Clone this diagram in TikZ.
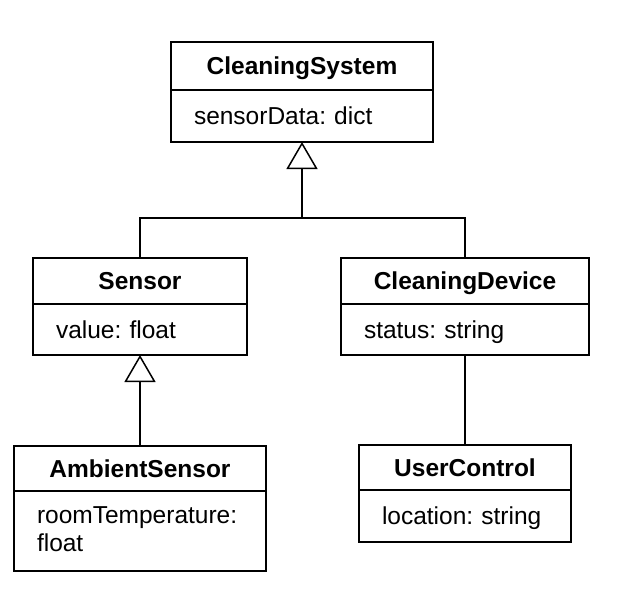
\documentclass[tikz,border=0pt]{standalone}
\usepackage{fontspec}
\setmainfont{Liberation Sans}
\usetikzlibrary{arrows.meta}
\frenchspacing
\tikzset{
	classhead/.style={draw, line width=1.5pt, outer sep=0pt, inner sep=0pt, anchor=north west,
		font=\bfseries\fontsize{24.5}{28}\selectfont, text height=17.5pt, text depth=0pt},
	classattr/.style={draw, line width=1.5pt, outer sep=0pt, inner xsep=23pt, inner ysep=0pt, anchor=north west,
		align=left, font=\fontsize{24.5}{28}\selectfont, text height=17.5pt, text depth=0pt},
	inherit/.style={line width=1.5pt, -{Triangle[open, length=27pt, width=31pt]}},
	assoc/.style={line width=1.5pt}
}

\begin{document}
\begin{tikzpicture}[x=1pt, y=-1pt]
			%%%%% START %%%%%
			\useasboundingbox (0, 0) rectangle (624, 602);
			
			\node[classhead, minimum width=262pt, minimum height=48pt] (system) at (171, 42) {CleaningSystem};
			\node[classattr, text width=216pt, minimum height=52pt] (systemattr) at (system.south west) {sensorData: dict};
			
			\node[classhead, minimum width=214pt, minimum height=46pt] (sensor) at (33, 258) {Sensor};
			\node[classattr, text width=168pt, minimum height=51pt] (sensorattr) at (sensor.south west) {value: float};
			
			\node[classhead, minimum width=248pt, minimum height=46pt] (device) at (341, 258) {CleaningDevice};
			\node[classattr, text width=202pt, minimum height=51pt] (deviceattr) at (device.south west) {status: string};
			
			\node[classhead, minimum width=252pt, minimum height=45pt] (ambient) at (14, 446) {AmbientSensor};
			\node[classattr, text width=206pt, minimum height=80pt, text depth=33.5pt] (ambientattr) at (ambient.south west) {roomTemperature:\\float};
			
			\node[classhead, minimum width=212pt, minimum height=45pt] (user) at (359, 445) {UserControl};
			\node[classattr, text width=166pt, minimum height=52pt] (userattr) at (user.south west) {location: string};
			
			\coordinate (fork) at (302, 218);
			\draw[inherit] (sensor.north) |- (fork) -- (systemattr.south);
			\draw[assoc] (device.north) |- (fork);
			
			\draw[inherit] (ambient.north) -- (sensorattr.south);
			\draw[assoc] (deviceattr.south) -- (user.north);
			
			%%%%% END %%%%%
\end{tikzpicture}
\end{document}
